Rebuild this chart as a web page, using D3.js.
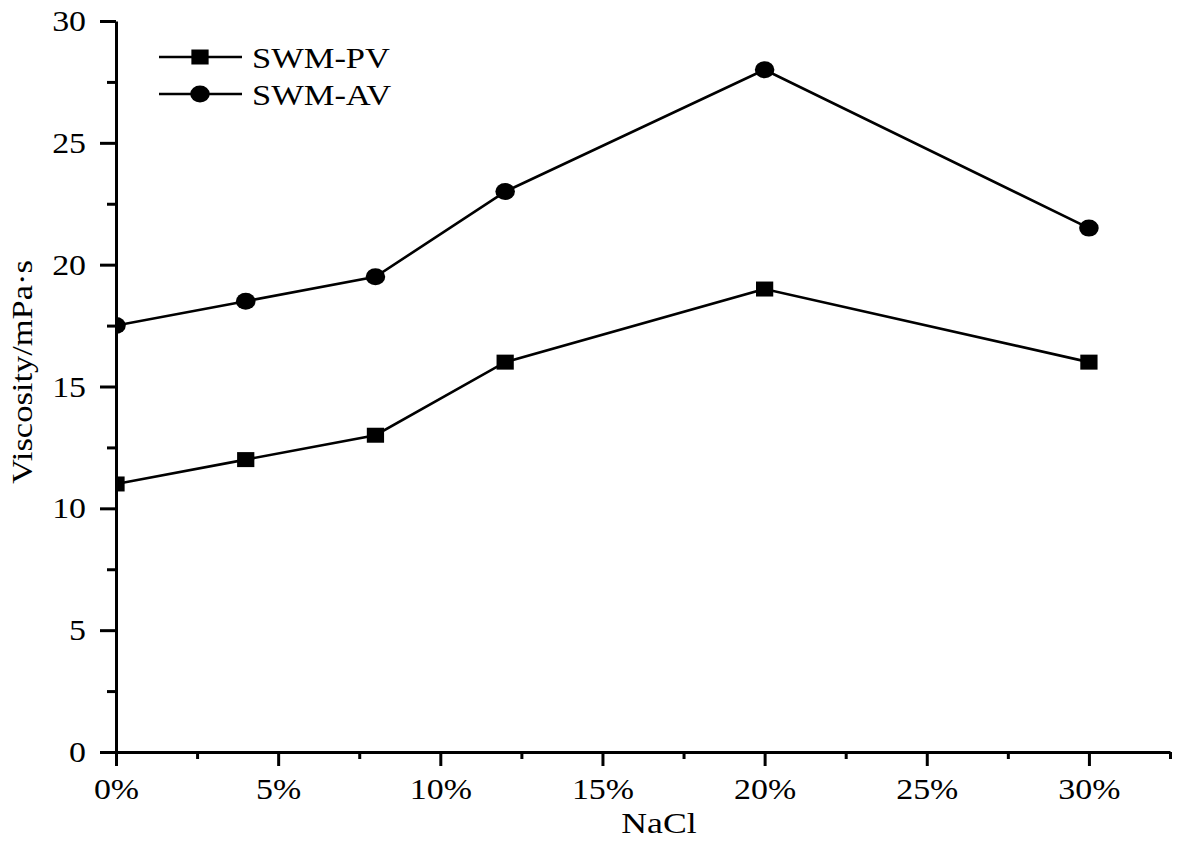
<!DOCTYPE html>
<html>
<head>
<meta charset="utf-8">
<script src="https://cdn.jsdelivr.net/npm/d3@7"></script>
<style>
  html, body { margin: 0; padding: 0; background: #fff; }
  svg text { font-family: "Liberation Serif", "Times New Roman", serif; fill: #000; }
</style>
</head>
<body>
<svg id="chart" width="1180" height="842"></svg>
<script>
// ---- data ----
const nacl = [0, 4, 8, 12, 20, 30];               // NaCl %
const pv = [11, 12, 13, 16, 19, 16];              // SWM-PV
const av = [17.5, 18.5, 19.5, 23, 28, 21.5];      // SWM-AV
const seriesNames = ["SWM-PV", "SWM-AV"];
const xTicks = [0, 5, 10, 15, 20, 25, 30];
const xMinorTicks = [2.5, 7.5, 12.5, 17.5, 22.5, 27.5, 32.5];
const yTicks = [0, 5, 10, 15, 20, 25, 30];
const yMinorTicks = [2.5, 7.5, 12.5, 17.5, 22.5, 27.5];

(function () {
const svg = d3.select("#chart");
const mLeft = 116, mRight = 1170, mTop = 21, mBottom = 752;
const SX = 1.13; // horizontal text stretch
const FS = 30;

const x = d3.scaleLinear().domain([0, 32.5]).range([mLeft, mRight]);
const y = d3.scaleLinear().domain([0, 30]).range([mBottom, mTop]);

// clip
svg.append("defs").append("clipPath").attr("id", "plotclip")
  .append("rect").attr("x", mLeft).attr("y", mTop - 12).attr("width", mRight - mLeft + 12).attr("height", mBottom - mTop + 12);

// series
const data = [pv, av];
const symbols = [d3.symbolSquare, d3.symbolCircle];
const sizes = [225, 227];
const plot = svg.append("g").attr("clip-path", "url(#plotclip)");
data.forEach((vals, i) => {
  const pts = nacl.map((n, j) => [n, vals[j]]);
  plot.append("path").datum(pts)
    .attr("fill", "none").attr("stroke", "#000").attr("stroke-width", 2.6)
    .attr("d", d3.line().x(d => x(d[0])).y(d => y(d[1])));
  plot.selectAll(null).data(pts).enter().append("path")
    .attr("transform", d => `translate(${x(d[0])},${y(d[1])}) scale(1.15,1)`)
    .attr("d", d3.symbol().type(symbols[i]).size(sizes[i]))
    .attr("fill", "#000");
});

// axes
function styleAxis(g) {
  g.selectAll("path.domain").attr("stroke", "#000").attr("stroke-width", 3);
  g.selectAll(".tick line").attr("stroke", "#000").attr("stroke-width", 3);
  g.selectAll("text").style("font-size", FS + "px").attr("fill", "#000")
    .style("font-family", '"Liberation Serif", "Times New Roman", serif');
}
const xAxis = svg.append("g").attr("transform", `translate(0,${mBottom})`)
  .call(d3.axisBottom(x).tickValues(xTicks).tickSize(14).tickPadding(12).tickFormat(d => d + "%").tickSizeOuter(0));
styleAxis(xAxis);
xAxis.selectAll(".tick text").attr("transform", `scale(${SX},1)`);
const xMinor = svg.append("g").attr("transform", `translate(0,${mBottom})`)
  .call(d3.axisBottom(x).tickValues(xMinorTicks).tickSize(7).tickFormat("").tickSizeOuter(0));
styleAxis(xMinor);
xMinor.select("path.domain").remove();

const yAxis = svg.append("g").attr("transform", `translate(${mLeft},0)`)
  .call(d3.axisLeft(y).tickValues(yTicks).tickSize(16).tickPadding(14).tickFormat(d3.format("d")).tickSizeOuter(0));
styleAxis(yAxis);
yAxis.selectAll(".tick text").attr("x", -30 / SX).attr("transform", `scale(${SX},1)`);
const yMinor = svg.append("g").attr("transform", `translate(${mLeft},0)`)
  .call(d3.axisLeft(y).tickValues(yMinorTicks).tickSize(9).tickFormat("").tickSizeOuter(0));
styleAxis(yMinor);
yMinor.select("path.domain").remove();

// axis titles
svg.append("text").attr("transform", `translate(659,833) scale(1.19,1)`)
  .attr("text-anchor", "middle").style("font-size", FS + "px").text("NaCl");
svg.append("text").attr("transform", `translate(32,372) rotate(-90) scale(1.15,1)`)
  .attr("text-anchor", "middle").style("font-size", FS + "px").text("Viscosity/mPa·s");

// legend
const legY = [57, 94];
seriesNames.forEach((name, i) => {
  const g = svg.append("g");
  g.append("line").attr("x1", 159).attr("x2", 242).attr("y1", legY[i]).attr("y2", legY[i])
    .attr("stroke", "#000").attr("stroke-width", 2.6);
  g.append("path").attr("transform", `translate(200,${legY[i]}) scale(1.15,1)`)
    .attr("d", d3.symbol().type(symbols[i]).size(sizes[i])).attr("fill", "#000");
  g.append("text").attr("transform", `translate(252,${legY[i] + 10.5}) scale(1.15,1)`)
    .style("font-size", FS + "px").text(name);
});
})();
</script>
</body>
</html>
